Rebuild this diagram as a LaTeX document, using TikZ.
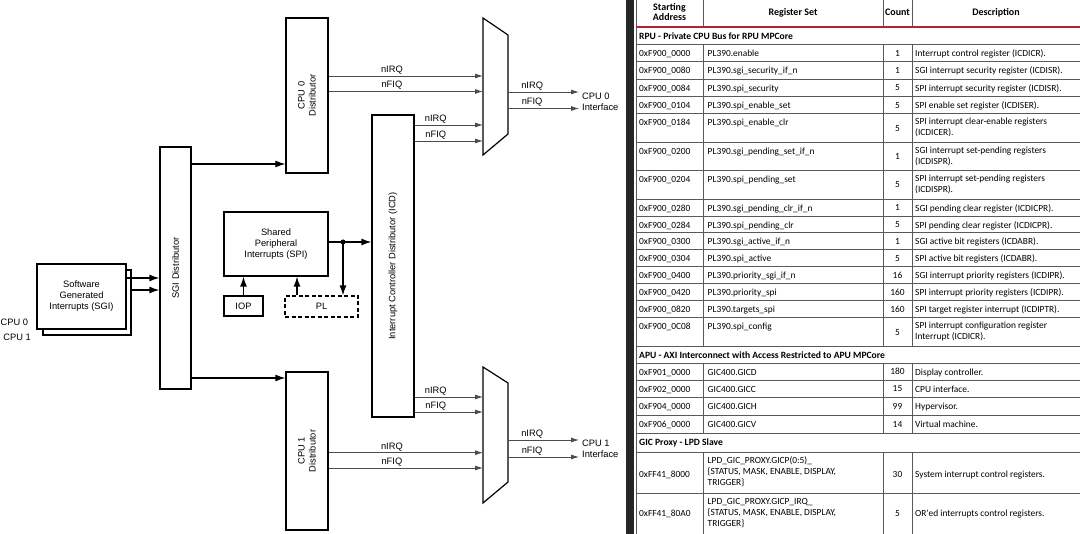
\documentclass[tikz,border=0pt]{standalone}
\usepackage{fontspec}
\setmainfont{Liberation Sans}
\newfontfamily\tabfont{Carlito}
\usetikzlibrary{
    arrows.meta,
    positioning,
    calc
}
\definecolor{hdrline}{RGB}{178,34,52}

\begin{document}
\begin{tikzpicture}[
    x=1pt, y=-1pt,
    every node/.style={font=\fontsize{9.3pt}{11pt}\selectfont},
    block/.style={rectangle, draw=black, line width=1.2pt, fill=white, inner sep=0pt, align=center},
    feed/.style={line width=1.3pt, -{Latex[length=10pt,width=7pt]}},
    bus/.style={draw=black!70, line width=0.8pt, -{Latex[length=8pt,width=5pt]}},
    sig/.style={above, inner sep=1.5pt},
    mux/.style={draw=black, line width=1.2pt, fill=white},
    dot/.style={circle, fill=black, inner sep=0pt, minimum size=5pt},
    cell/.style={font=\tabfont\fontsize{9.4pt}{11pt}\selectfont, inner sep=0pt, anchor=north west, align=left, execute at begin node=\strut},
    sect/.style={cell, font=\tabfont\bfseries\fontsize{9.6pt}{11pt}\selectfont},
    num/.style={font=\tabfont\fontsize{9.4pt}{11pt}\selectfont, inner sep=0pt, anchor=base},
    head/.style={font=\tabfont\bfseries\fontsize{10pt}{10pt}\selectfont, inner sep=0pt, align=center},
    rule/.style={draw=black!65, line width=0.9pt}
]
\useasboundingbox (0,0) rectangle (1080,534);

% dark edge of the window behind the table
\fill[black!85] (626,0) rectangle (634,534);

% SGI sources, one box per CPU
\node[block, minimum width=88pt, minimum height=65pt] (sgiback) at (87,302.5) {};
\node[block, minimum width=89pt, minimum height=65pt] (sgi) at (81.5,296.5) {Software\\Generated\\Interrupts (SGI)};
\node[anchor=west, inner sep=0pt] (cpu0tag) at (0.5,322.5) {CPU 0};
\node[anchor=east, inner sep=0pt] (cpu1tag) at (31,337.5) {CPU 1};

% distributors
\node[block, minimum width=31pt, minimum height=242pt] (sgidist) at (175.5,268) {};
\node[rotate=90] (sgidistlbl) at (sgidist) {SGI Distributor};
\node[block, minimum width=42pt, minimum height=155pt] (cpu0dist) at (307,95.5) {};
\node[rotate=90, align=center] (cpu0lbl) at (cpu0dist) {CPU 0\\Distributor};
\node[block, minimum width=42pt, minimum height=158pt] (cpu1dist) at (307,451) {};
\node[rotate=90, align=center] (cpu1lbl) at (cpu1dist) {CPU 1\\Distributor};
\node[block, minimum width=42pt, minimum height=302pt] (icd) at (393,266) {};
\node[rotate=90] (icdlbl) at (icd) {Interrupt Controller Distributor (ICD)};

% shared peripheral sources
\node[block, minimum width=104pt, minimum height=64pt] (spi) at (276,244) {Shared\\Peripheral\\Interrupts (SPI)};
\node[block, minimum width=39pt, minimum height=20pt] (iop) at (243.5,306) {IOP};
\node[block, dash pattern=on 4pt off 2.5pt, minimum width=73pt, minimum height=21pt] (pl) at (321.5,306.5) {PL};

% muxes
\draw[mux] (483,18) -- (508,35) -- (508,134) -- (483,155) -- cycle;
\coordinate (mux0in) at (483,86);
\coordinate (mux0out) at (508,86);
\draw[mux] (483,367) -- (508,383) -- (508,482) -- (483,503) -- cycle;
\coordinate (mux1in) at (483,435);
\coordinate (mux1out) at (508,435);

\node[anchor=west, align=left, inner sep=3pt] (cpu0if) at (579,101.5) {CPU 0\\Interface};
\node[anchor=west, align=left, inner sep=3pt] (cpu1if) at (579,449) {CPU 1\\Interface};

% connections
\draw[feed] (sgi.east |- 0,278) -- (sgidist.west |- 0,278);
\draw[feed] (sgiback.east |- 0,290) -- (sgidist.west |- 0,290);
\draw[feed] (sgidist.east |- 0,164) -- (cpu0dist.west |- 0,164);
\draw[feed] (sgidist.east |- 0,378) -- (cpu1dist.west |- 0,378);

\foreach \src/\dst/\yi/\yf/\p [count=\k] in {
    cpu0dist.east/mux0in/76/91.5/0.41,
    icd.east/mux0in/125/141/0.31,
    mux0out/cpu0if.west/92/108.5/0.34,
    icd.east/mux1in/397/412/0.31,
    cpu1dist.east/mux1in/452.7/468/0.41,
    mux1out/cpu1if.west/440/457/0.34} {
    \draw[bus] (\src |- 0,\yi) -- node[sig, pos=\p] (irq\k) {nIRQ} (\dst |- 0,\yi);
    \draw[bus] (\src |- 0,\yf) -- node[sig, pos=\p] (fiq\k) {nFIQ} (\dst |- 0,\yf);
}

\draw[feed] (spi.east |- 0,242) -- (icd.west |- 0,242);
\node[dot] (tap) at (343,242) {};
\draw[feed] (tap.center) -- (tap.center |- pl.north);
\draw[feed] (iop.north) -- (iop.north |- spi.south);
\path ([xshift=-24.5pt]pl.north) coordinate (plup);
\draw[feed] (plup) -- (plup |- spi.south);

% register table
\draw[rule] (636,0) -- (636,534);
\foreach \x in {703,883,912} {
    \draw[rule] (\x,0) -- (\x,27);
    \draw[rule] (\x,44) -- (\x,346);
    \draw[rule] (\x,363) -- (\x,433);
    \draw[rule] (\x,452) -- (\x,534);
}
\foreach \y in {44,363,452,493}
    \draw[rule] (636,\y) -- (1080,\y);
\draw[hdrline, line width=2pt] (636,27) -- (1080,27);

\node[head] (hAddr) at (669.5,12.5) {Starting\\Address};
\node[head] (hReg) at (793,12.5) {Register Set};
\node[head] (hCnt) at (897.5,12.5) {Count};
\node[head] (hDesc) at (996,12.5) {Description};

\node[sect] (secRPU) at (639,31.5) {RPU - Private CPU Bus for RPU MPCore};
\node[sect] (secAPU) at (639,350.7) {APU - AXI Interconnect with Access Restricted to APU MPCore};
\node[sect] (secGIC) at (639,437.6) {GIC Proxy - LPD Slave};

\foreach \yt/\yb/\addr/\reg/\cnt/\desc [count=\i] in {
    44/61.5/0xF900\_0000/PL390.enable/1/Interrupt control register (ICDICR).,
    61.5/79/0xF900\_0080/PL390.sgi\_security\_if\_n/1/SGI interrupt security register (ICDISR).,
    79/96/0xF900\_0084/PL390.spi\_security/5/SPI interrupt security register (ICDISR).,
    96/113.5/0xF900\_0104/PL390.spi\_enable\_set/5/SPI enable set register (ICDISER).,
    113.5/142/0xF900\_0184/PL390.spi\_enable\_clr/5/{SPI interrupt clear-enable registers\\(ICDICER).},
    142/170/0xF900\_0200/PL390.sgi\_pending\_set\_if\_n/1/{SGI interrupt set-pending registers\\(ICDISPR).},
    170/199/0xF900\_0204/PL390.spi\_pending\_set/5/{SPI interrupt set-pending registers\\(ICDISPR).},
    199/216/0xF900\_0280/PL390.sgi\_pending\_clr\_if\_n/1/SGI pending clear register (ICDICPR).,
    216/232.5/0xF900\_0284/PL390.spi\_pending\_clr/5/SPI pending clear register (ICDICPR).,
    232.5/249.5/0xF900\_0300/PL390.sgi\_active\_if\_n/1/SGI active bit registers (ICDABR).,
    249.5/266.5/0xF900\_0304/PL390.spi\_active/5/SPI active bit registers (ICDABR).,
    266.5/283.5/0xF900\_0400/PL390.priority\_sgi\_if\_n/16/SGI interrupt priority registers (ICDIPR).,
    283.5/300.5/0xF900\_0420/PL390.priority\_spi/160/SPI interrupt priority registers (ICDIPR).,
    300.5/317.5/0xF900\_0820/PL390.targets\_spi/160/SPI target register interrupt (ICDIPTR).,
    317.5/346/0xF900\_0C08/PL390.spi\_config/5/{SPI interrupt configuration register\\Interrupt (ICDICR).},
    363/380/0xF901\_0000/GIC400.GICD/180/Display controller.,
    380/397/0xF902\_0000/GIC400.GICC/15/CPU interface.,
    397/415/0xF904\_0000/GIC400.GICH/99/Hypervisor.,
    415/433/0xF906\_0000/GIC400.GICV/14/Virtual machine.} {
    \draw[rule] (636,\yb) -- (1080,\yb);
    \node[cell] (addr\i) at (639,\yt+4.6) {\addr};
    \node[cell] (reg\i) at (707.5,\yt+4.6) {\reg};
    \node[num] (cnt\i) at (897.5,{(\yt+\yb)/2+3.5}) {\cnt};
    \node[cell] (desc\i) at (915,\yt+4.6) {\desc};
}

\node[cell] (addr20) at (639,469.8) {0xFF41\_8000};
\node[cell] (reg20) at (707.5,456.8) {LPD\_GIC\_PROXY.GICP(0:5)\_\\\{STATUS, MASK, ENABLE, DISPLAY,\\TRIGGER\}};
\node[num] (cnt20) at (897.5,477.5) {30};
\node[cell] (desc20) at (915,469.8) {System interrupt control registers.};
\node[cell] (addr21) at (639,509.1) {0xFF41\_80A0};
\node[cell] (reg21) at (707.5,498.1) {LPD\_GIC\_PROXY.GICP\_IRQ\_\\\{STATUS, MASK, ENABLE, DISPLAY,\\TRIGGER\}};
\node[num] (cnt21) at (897.5,516.8) {5};
\node[cell] (desc21) at (915,509.1) {OR'ed interrupts control registers.};

\end{tikzpicture}
\end{document}
